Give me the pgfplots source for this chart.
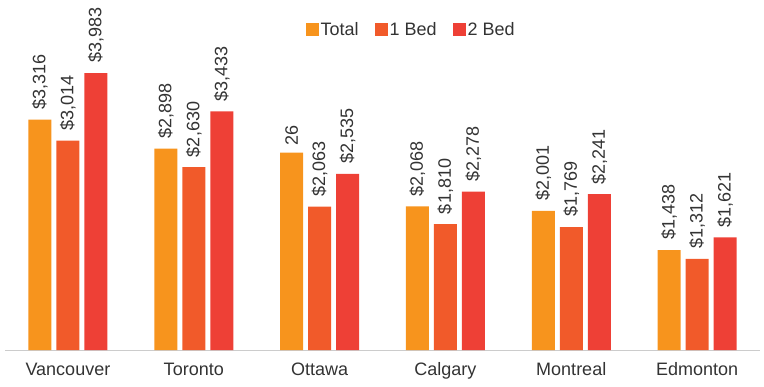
\documentclass[border=0pt]{standalone}
\usepackage{fontspec}
\setmainfont{Liberation Sans}
\usepackage{pgfplots}
\usepackage{pgfplotstable}
\pgfplotsset{compat=1.18}
\definecolor{cTotal}{HTML}{F7941D}
\definecolor{cOne}{HTML}{F15A2A}
\definecolor{cTwo}{HTML}{EE4036}
\definecolor{txt}{HTML}{333333}
\newcommand\f{\fontsize{18bp}{21bp}\selectfont}

\pgfplotstableread{
x y lab
0 3316 \$3,316
1 2898 \$2,898
2 2840 {\kern-3bp 26}
3 2068 \$2,068
4 2001 \$2,001
5 1438 \$1,438
}\total
\pgfplotstableread{
x y lab
0 3014 \$3,014
1 2630 \$2,630
2 2063 \$2,063
3 1810 \$1,810
4 1769 \$1,769
5 1312 \$1,312
}\onebed
\pgfplotstableread{
x y lab
0 3983 \$3,983
1 3433 \$3,433
2 2535 \$2,535
3 2278 \$2,278
4 2241 \$2,241
5 1621 \$1,621
}\twobed

\begin{document}
\begin{tikzpicture}
\path[use as bounding box] (-5bp,-37bp) rectangle (759bp,350bp);
\begin{axis}[
  scale only axis,
  width=755bp, height=347.5bp,
  xmin=-0.5, xmax=5.5,
  ymin=0, ymax=5000,
  clip=false,
  ybar=5bp, bar width=23bp,
  axis x line=bottom,
  axis y line=none,
  x axis line style={-, draw=black!20, line width=0.8bp},
  xtick=data,
  xticklabels={Vancouver,Toronto,Ottawa,Calgary,Montreal,Edmonton},
  xtick style={draw=none},
  x tick label style={font=\f, text=txt, yshift=-7bp},
  ytick=\empty,
  point meta=explicit symbolic,
  nodes near coords,
  nodes near coords style={font=\f, text=txt, rotate=90, anchor=west, inner xsep=10bp},
  legend columns=3,
  legend style={at={(0.538,0.921)}, anchor=center, draw=none, fill=none, font=\f, text=txt,
    /tikz/every even column/.append style={column sep=14bp}},
  legend image code/.code={\fill[#1] (0bp,-6.5bp) rectangle (13bp,6.5bp);},
]
\addplot[fill=cTotal, draw=none] table[x=x, y=y, meta=lab] {\total};
\addplot[fill=cOne, draw=none] table[x=x, y=y, meta=lab] {\onebed};
\addplot[fill=cTwo, draw=none] table[x=x, y=y, meta=lab] {\twobed};
\legend{Total,1 Bed,2 Bed}
\end{axis}
\end{tikzpicture}
\end{document}
